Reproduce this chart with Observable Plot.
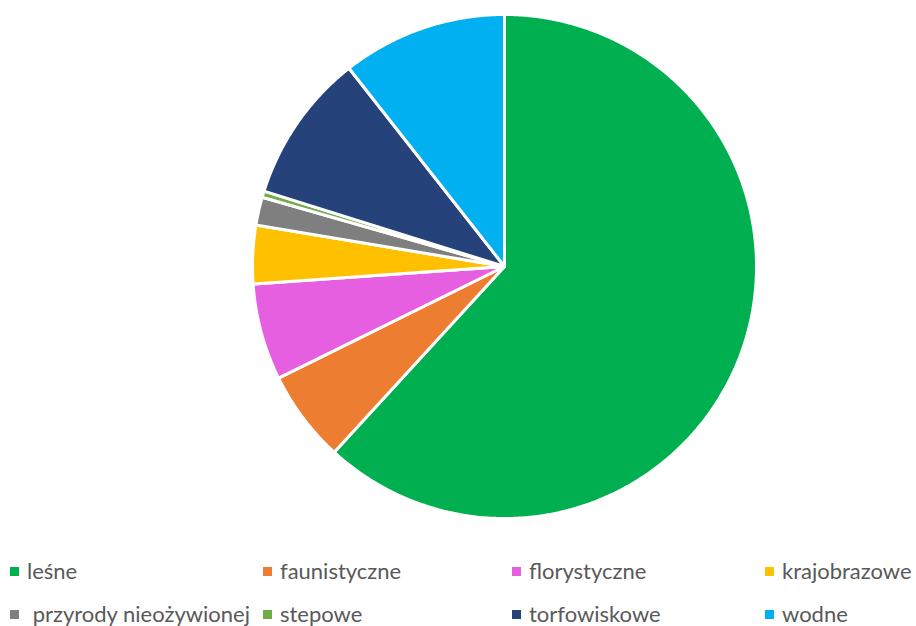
<!DOCTYPE html>
<html>
<head>
<meta charset="utf-8">
<script src="https://cdn.jsdelivr.net/npm/d3@7"></script>
<script src="https://cdn.jsdelivr.net/npm/@observablehq/plot@0.6"></script>
<style>
  html, body { margin: 0; padding: 0; background: #fff; }
  #wrap { position: relative; width: 916px; height: 626px; overflow: hidden; }
  #legend { position: absolute; left: 0; top: 546px; width: 916px; height: 80px; font-family: Lato, "Liberation Sans", sans-serif; font-size: 22px; color: #595959; }
  .item { position: absolute; display: flex; align-items: center; white-space: pre; line-height: 26px; }
  .sw { width: 9px; height: 9px; margin-right: 8px; flex: none; }
</style>
</head>
<body>
<div id="wrap"><div id="chart"></div><div id="legend"></div></div>
<script>
const categories = ["leśne", "faunistyczne", "florystyczne", "krajobrazowe", "przyrody nieożywionej", "stepowe", "torfowiskowe", "wodne"];
const values = [61.9, 5.9, 6.2, 3.75, 1.8, 0.4, 9.6, 10.6];
const colors = ["#00B050", "#ED7D31", "#E65FE0", "#FFC000", "#7F7F7F", "#70AD47", "#25437A", "#00B0F0"];
const legendLabels = ["leśne", "faunistyczne", "florystyczne", "krajobrazowe", " przyrody nieożywionej", "stepowe", "torfowiskowe", "wodne"];

const W = 916, H = 540, cx = 504, cy = 266, R = 252;

const pie = d3.pie().sort(null).value(d => d.value).startAngle(0).endAngle(2 * Math.PI);
const arcs = pie(categories.map((c, i) => ({category: c, value: values[i]})));
const pts = [];
arcs.forEach(a => {
  const n = Math.max(4, Math.ceil((a.endAngle - a.startAngle) / 0.01));
  pts.push({category: a.data.category, x: 0, y: 0});
  for (let k = 0; k <= n; k++) {
    const t = a.startAngle + (a.endAngle - a.startAngle) * k / n;
    pts.push({category: a.data.category, x: Math.sin(t), y: Math.cos(t)});
  }
  pts.push({category: a.data.category, x: 0, y: 0});
});

const chart = Plot.plot({
  width: W, height: H,
  margin: 0,
  x: {domain: [-cx / R, (W - cx) / R], axis: null},
  y: {domain: [-(H - cy) / R, cy / R], axis: null},
  color: {domain: categories, range: colors},
  marks: [
    Plot.line(pts, {x: "x", y: "y", z: "category", fill: "category", stroke: "white", strokeWidth: 3, strokeLinejoin: "miter", curve: "linear"})
  ]
});
document.getElementById("chart").appendChild(chart);

const colX = [10, 263, 512, 765];
const rowY = [12, 55];
const legend = document.getElementById("legend");
legendLabels.forEach((lab, i) => {
  const el = document.createElement("div");
  el.className = "item";
  el.style.left = colX[i % 4] + "px";
  el.style.top = rowY[Math.floor(i / 4)] + "px";
  const sw = document.createElement("span");
  sw.className = "sw";
  sw.style.background = colors[i];
  el.appendChild(sw);
  const tx = document.createElement("span");
  tx.textContent = lab;
  el.appendChild(tx);
  legend.appendChild(el);
});
</script>
</body>
</html>
